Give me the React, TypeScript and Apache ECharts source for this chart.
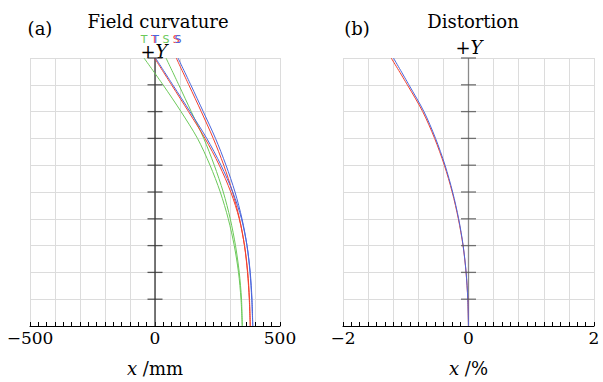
import React, { useEffect, useRef } from "react";
import * as echarts from "echarts";

// Normalized field (0 = axis, 1 = +Y edge)
const FIELD = [0, 0.1, 0.2, 0.3, 0.4, 0.5, 0.6, 0.7, 0.8, 0.9, 1.0];
const Y_TICKS = [0.1, 0.2, 0.3, 0.4, 0.5, 0.6, 0.7, 0.8, 0.9, 1.0];

// Field curvature (mm): T = tangential, S = sagittal
const GREEN_T = [349, 344, 334, 317, 293, 261, 220, 170, 104, 32, -44];
const GREEN_S = [349, 346, 337, 322, 301, 273, 237, 195, 145, 95, 44];
const RED_T = [381, 377, 370, 358, 337, 303, 257, 200, 134, 66, -2];
const RED_S = [381, 378, 371, 358, 338, 310, 275, 233, 185, 135, 85];
const BLUE_T = [391, 387, 380, 368, 346, 311, 264, 207, 140, 71, 2];
const BLUE_S = [391, 388, 381, 368, 348, 320, 284, 242, 193, 143, 92];

// Distortion (%)
const RED_D = [0, -0.011, -0.039, -0.087, -0.162, -0.26, -0.385, -0.54, -0.73, -0.975, -1.232];
const BLUE_D = [0, -0.011, -0.038, -0.085, -0.157, -0.253, -0.374, -0.525, -0.71, -0.95, -1.196];

const X1_LABELS: Record<string, string> = { "-500": "\u2212500", "0": "0", "500": "500" };
const X2_LABELS: Record<string, string> = { "-2": "\u22122", "0": "0", "2": "2" };

const GREEN = "#6cc95a";
const RED = "#f2412f";
const BLUE = "#4a66dc";
const SERIF = "DejaVu Serif";

export default function App() {
  const ref = useRef<HTMLDivElement>(null);
  useEffect(() => {
    document.body.style.margin = "0";
    const chart = echarts.init(ref.current!, undefined, { renderer: "svg" });

    const curve = (xs: number[], color: string, axis: number, tag?: string) => ({
      type: "line",
      xAxisIndex: axis,
      yAxisIndex: axis,
      smooth: 0.3,
      showSymbol: true,
      symbol: "circle",
      symbolSize: 0,
      silent: true,
      lineStyle: { color, width: 1 },
      itemStyle: { color },
      label: { show: false },
      data: FIELD.map((f, i) => {
        const item: any = { value: [xs[i], f] };
        if (tag && i === FIELD.length - 1) {
          item.label = {
            show: true,
            position: "top",
            distance: 13,
            formatter: tag,
            color,
            fontSize: 11,
            fontFamily: "DejaVu Sans",
          };
        }
        return item;
      }),
    });

    const axisColumn = (axis: number, lineColor: string, tickColor: string) => [
      {
        type: "line",
        xAxisIndex: axis,
        yAxisIndex: axis,
        silent: true,
        showSymbol: false,
        lineStyle: { color: lineColor, width: 1.3 },
        data: [
          [0, 0],
          [0, 1],
        ],
        z: 3,
      },
      {
        type: "scatter",
        xAxisIndex: axis,
        yAxisIndex: axis,
        silent: true,
        symbol: "rect",
        symbolSize: [15, 1.3],
        itemStyle: { color: tickColor },
        data: Y_TICKS.map((t) => [0, t]),
        z: 3,
      },
    ];

    const xAxisCommon = (min: number, max: number, interval: number, labels: Record<string, string>, name: string) => ({
      type: "value",
      min,
      max,
      interval,
      name,
      nameLocation: "middle",
      nameGap: 33,
      nameTextStyle: {
        fontFamily: SERIF,
        fontSize: 18,
        color: "#000",
        rich: { i: { fontFamily: SERIF, fontStyle: "italic", fontSize: 18, color: "#000" } },
      },
      axisLine: { show: true, onZero: false, lineStyle: { color: "#000", width: 1 } },
      axisTick: { show: true, inside: true, length: 4, lineStyle: { color: "#000", width: 1 } },
      minorTick: { show: true, splitNumber: 3, length: 4, lineStyle: { color: "#000", width: 1 } },
      splitLine: { show: true, lineStyle: { color: "#dcdcdc", width: 1 } },
      axisLabel: {
        margin: 3,
        fontFamily: SERIF,
        fontSize: 17,
        color: "#000",
        formatter: (v: number) => {
          const k = String(Math.round(v * 1000) / 1000);
          return labels[k] ?? "";
        },
      },
    });

    const yAxisCommon = (gi: number) => ({
      type: "value",
      gridIndex: gi,
      min: 0,
      max: 1,
      interval: 0.1,
      axisLine: { show: false },
      axisTick: { show: false },
      axisLabel: { show: false },
      splitLine: { show: true, lineStyle: { color: "#dcdcdc", width: 1 } },
    });

    const textEl = (x: number, y: number, text: string, size: number, rich?: any) => ({
      type: "text",
      x,
      y,
      style: {
        text,
        fontFamily: SERIF,
        fontSize: size,
        fill: "#000",
        textAlign: "center",
        textVerticalAlign: "middle",
        rich,
      },
    });
    const italicRich = { i: { fontFamily: SERIF, fontStyle: "italic", fontSize: 18, fill: "#000" } };

    chart.setOption({
      animation: false,
      backgroundColor: "#fff",
      grid: [
        { left: 30, top: 58, width: 250, height: 282 },
        { left: 343, top: 58, width: 251, height: 282 },
      ],
      xAxis: [
        { ...xAxisCommon(-500, 500, 100, X1_LABELS, "{i|x} /mm"), gridIndex: 0 },
        { ...xAxisCommon(-2, 2, 0.4, X2_LABELS, "{i|x} /%"), gridIndex: 1 },
      ],
      yAxis: [yAxisCommon(0), yAxisCommon(1)],
      graphic: [
        textEl(40, 28, "(a)", 18),
        textEl(158, 21, "Field curvature", 18),
        textEl(154, 51, "+{i|Y}", 18, italicRich),
        textEl(357, 28, "(b)", 18),
        textEl(473, 21, "Distortion", 18),
        textEl(469, 47, "+{i|Y}", 18, italicRich),
      ],
      series: [
        ...axisColumn(0, "#333", "#333"),
        ...axisColumn(1, "#8a8a8a", "#555"),
        curve(GREEN_T, GREEN, 0, "T"),
        curve(GREEN_S, GREEN, 0, "S"),
        curve(RED_T, RED, 0, "T"),
        curve(RED_S, RED, 0, "S"),
        curve(BLUE_T, BLUE, 0, "T"),
        curve(BLUE_S, BLUE, 0, "S"),
        curve(RED_D, RED, 1),
        curve(BLUE_D, BLUE, 1),
      ],
    });
    return () => chart.dispose();
  }, []);
  return <div ref={ref} style={{ width: 603, height: 382 }} />;
}
